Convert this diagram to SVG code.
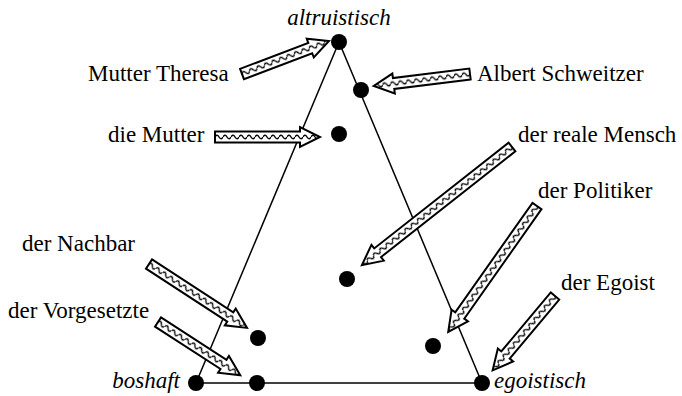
<svg xmlns="http://www.w3.org/2000/svg" width="682" height="396" viewBox="0 0 682 396">
<style>
text{font-family:"Liberation Serif","Times New Roman",serif;font-size:23px;fill:#000}
.it{font-style:italic}
.edge{stroke:#000;stroke-width:1.5;fill:none}
.dot{fill:#000}
.arr{fill:url(#wave);stroke:#000;stroke-width:2;stroke-linejoin:miter}
</style>
<defs>
<pattern id="wave" patternUnits="userSpaceOnUse" x="0" y="-10" width="8" height="20">
<rect width="8" height="20" fill="#fff"/>
<path d="M0,10 Q2,6.5 4,10 T8,10" stroke="#000" stroke-width="1.4" fill="none"/>
</pattern>
</defs>
<rect width="682" height="396" fill="#fff"/>
<g id="connectors">
<line class="edge" x1="339" y1="42" x2="196" y2="383"/>
<line class="edge" x1="339" y1="42" x2="482" y2="383"/>
<line class="edge" x1="196" y1="383" x2="482" y2="383"/>
</g>
<g id="arrows">
<polygon class="arr" transform="translate(242,74) rotate(-20.8)" points="0,-5.5 73,-5.5 73,-10 93,0 73,10 73,5.5 0,5.5"/>
<polygon class="arr" transform="translate(470,74) rotate(172.9)" points="0,-5.5 77,-5.5 77,-10 97,0 77,10 77,5.5 0,5.5"/>
<polygon class="arr" transform="translate(215,137)" points="0,-5.5 85,-5.5 85,-10 105,0 85,10 85,5.5 0,5.5"/>
<polygon class="arr" transform="translate(512,147) rotate(141.8)" points="0,-5.5 171,-5.5 171,-10 191,0 171,10 171,5.5 0,5.5"/>
<polygon class="arr" transform="translate(537,206) rotate(125.2)" points="0,-5.5 134,-5.5 134,-10 154,0 134,10 134,5.5 0,5.5"/>
<polygon class="arr" transform="translate(555,296) rotate(130)" points="0,-5.5 77,-5.5 77,-10 97,0 77,10 77,5.5 0,5.5"/>
<polygon class="arr" transform="translate(149,264) rotate(33.1)" points="0,-5.5 97,-5.5 97,-10 117,0 97,10 97,5.5 0,5.5"/>
<polygon class="arr" transform="translate(158,322) rotate(32.9)" points="0,-5.5 78,-5.5 78,-10 98,0 78,10 78,5.5 0,5.5"/>
</g>
<g id="altruistisch"><circle class="dot" cx="339" cy="42" r="8"/><text class="it" x="339" y="25" text-anchor="middle">altruistisch</text></g>
<g id="boshaft"><circle class="dot" cx="196" cy="383" r="8"/><text class="it" x="180" y="388" text-anchor="end">boshaft</text></g>
<g id="egoistisch"><circle class="dot" cx="482" cy="383" r="8"/><text class="it" x="494" y="388">egoistisch</text></g>
<g id="mutter-theresa"><text x="88" y="81">Mutter Theresa</text></g>
<g id="albert-schweitzer"><circle class="dot" cx="361" cy="90" r="8"/><text x="477" y="81">Albert Schweitzer</text></g>
<g id="die-mutter"><circle class="dot" cx="339" cy="134" r="8"/><text x="108" y="142">die Mutter</text></g>
<g id="der-reale-mensch"><circle class="dot" cx="347" cy="279" r="8"/><text x="518" y="142">der reale Mensch</text></g>
<g id="der-politiker"><circle class="dot" cx="433" cy="346" r="8"/><text x="538" y="198">der Politiker</text></g>
<g id="der-egoist"><text x="561" y="290">der Egoist</text></g>
<g id="der-nachbar"><circle class="dot" cx="258" cy="338" r="8"/><text x="22" y="251">der Nachbar</text></g>
<g id="der-vorgesetzte"><circle class="dot" cx="257" cy="383" r="8"/><text x="8" y="318">der Vorgesetzte</text></g>
</svg>
